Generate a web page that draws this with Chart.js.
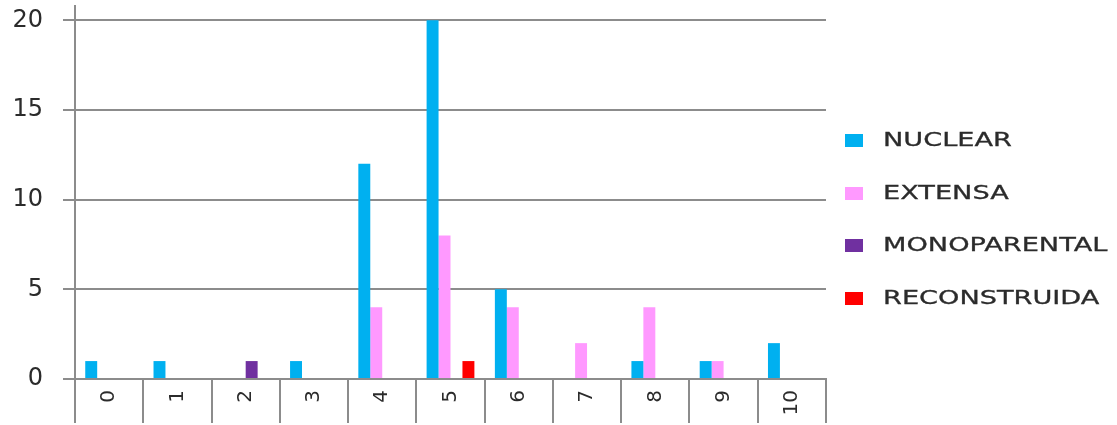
<!DOCTYPE html>
<html>
<head>
<meta charset="utf-8">
<script src="https://cdn.jsdelivr.net/npm/chart.js@4/dist/chart.umd.min.js"></script>
<style>
  html, body { margin: 0; padding: 0; background: #fff; }
  #wrap { position: relative; width: 1117px; height: 425px; }
  #wrap canvas { position: absolute; left: 0; top: 0; }
  #legend { position: absolute; left: 845px; top: 0; font-family: "DejaVu Sans", sans-serif; color: #2b2b2b; }
  .item { position: absolute; left: 0; height: 20px; white-space: nowrap; }
  .item .box { position: absolute; left: 0; top: 4px; width: 18px; height: 13px; }
  .item .txt { position: absolute; left: 38px; top: -2px; font-size: 19px; line-height: 22px; transform: scaleX(1.43); transform-origin: left center; -webkit-text-stroke: 0.3px #2b2b2b; }
</style>
</head>
<body>
<div id="wrap">
  <canvas id="familyChart" width="1117" height="425"></canvas>
  <div id="legend"></div>
</div>
<script>
const categories = ['0', '1', '2', '3', '4', '5', '6', '7', '8', '9', '10'];

const nuclear      = [1, 1, 0, 1, 12, 20, 5, 0, 1, 1, 2];
const extensa      = [0, 0, 0, 0, 4, 8, 4, 2, 4, 1, 0];
const monoparental = [0, 0, 1, 0, 0, 0, 0, 0, 0, 0, 0];
const reconstruida = [0, 0, 0, 0, 0, 1, 0, 0, 0, 0, 0];

const seriesNames = ['NUCLEAR', 'EXTENSA', 'MONOPARENTAL', 'RECONSTRUIDA'];
const seriesColors = ['#00b0f0', '#ff99ff', '#7030a0', '#ff0000'];
const yTicks = [0, 5, 10, 15, 20];

const gridGray = '#8c8c8c';
const textDark = '#2b2b2b';

const datasets = [nuclear, extensa, monoparental, reconstruida].map((data, i) => ({
  label: seriesNames[i],
  data: data,
  backgroundColor: seriesColors[i],
  borderWidth: 0
}));

const ctx = document.getElementById('familyChart').getContext('2d');
new Chart(ctx, {
  type: 'bar',
  data: { labels: categories, datasets: datasets },
  options: {
    responsive: false,
    animation: false,
    categoryPercentage: 0.7,
    barPercentage: 1,
    layout: { padding: { top: 6, right: 291, left: 0, bottom: 0 } },
    plugins: {
      legend: { display: false },
      tooltip: { enabled: false }
    },
    scales: {
      x: {
        offset: true,
        grid: {
          offset: true,
          drawOnChartArea: false,
          drawTicks: true,
          tickLength: 44,
          color: gridGray,
          lineWidth: 2
        },
        border: { color: gridGray, width: 2 },
        ticks: {
          minRotation: 90,
          maxRotation: 90,
          padding: -33,
          color: textDark,
          font: { family: 'DejaVu Sans', size: 20 }
        },
        afterFit(scale) {
          scale.height = 46;
          scale.paddingLeft = 0;
          scale.paddingRight = 0;
        }
      },
      y: {
        min: 0,
        max: 20.8,
        ticks: {
          padding: 20,
          color: textDark,
          font: { family: 'DejaVu Sans', size: 24 }
        },
        // only the multiples of five carry a label and a grid line
        afterBuildTicks(scale) {
          scale.ticks = yTicks.map(v => ({ value: v }));
        },
        grid: { color: gridGray, lineWidth: 2, tickLength: 12 },
        border: { color: gridGray, width: 2 },
        afterFit(scale) {
          scale.width = 75;
          scale.paddingTop = 0;
          scale.paddingBottom = 0;
        }
      }
    }
  }
});

// Legend built as plain HTML on the right side
const legend = document.getElementById('legend');
const rowCenters = [140, 193, 245, 298];
seriesNames.forEach((name, i) => {
  const item = document.createElement('div');
  item.className = 'item';
  item.style.top = (rowCenters[i] - 10) + 'px';
  item.innerHTML = '<span class="box" style="background:' + seriesColors[i] + '"></span>' +
    '<span class="txt">' + name + '</span>';
  legend.appendChild(item);
});
</script>
</body>
</html>
